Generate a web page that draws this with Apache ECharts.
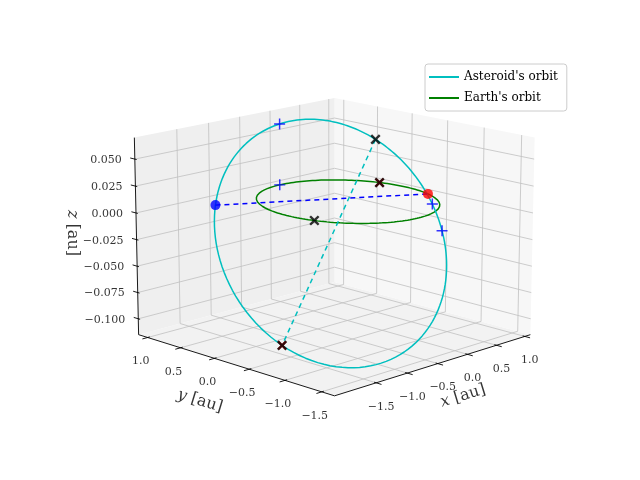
<!DOCTYPE html>
<html><head><meta charset="utf-8">
<script src="https://cdn.jsdelivr.net/npm/echarts@6/dist/echarts.min.js"></script>
<style>html,body{margin:0;padding:0;background:#fff}#c{width:640px;height:480px}</style>
</head><body><div id="c"></div>
<script>
// ---- data ----
const xTicks = [-1.5, -1.0, -0.5, 0.0, 0.5, 1.0];
const yTicks = [-1.5, -1.0, -0.5, 0.0, 0.5, 1.0];
const zTicks = [-0.100, -0.075, -0.050, -0.025, 0.000, 0.025, 0.050];
const xTickLabels = ['−1.5', '−1.0', '−0.5', '0.0', '0.5', '1.0'];
const yTickLabels = ['−1.5', '−1.0', '−0.5', '0.0', '0.5', '1.0'];
const zTickLabels = ['−0.100', '−0.075', '−0.050', '−0.025', '0.000', '0.025', '0.050'];
// asteroid orbital elements: a [au], e, i [deg], node [deg], arg. perihelion [deg]
const asteroidA = [1.335];
const asteroidE = [0.375];
const asteroidInc = [3.9];
const asteroidNode = [-33.4];
const asteroidPeri = [52.2];
const earthRadius = [1.0];
// marker positions
const asteroidDotNu = [127.8];            // asteroid (blue dot), true anomaly deg
const asteroidPlusNu = [70, -56, -72];    // blue + on asteroid orbit
const apsidesNu = [0, 180];               // black x at perihelion / aphelion
const earthDotAngle = [-21.9];            // Earth (red dot), deg
const earthPlusAngle = [90];              // blue + on Earth orbit
const earthXAngle = [19.5, -160];         // black x on Earth orbit
const redXAsteroidNu = [180];
const redXEarthAngle = [19.5];

// ---- projection (matplotlib-like 3D view) ----
const xlim = [-2.15, 1.10], ylim = [-1.67, 1.14], zlim = [-0.1152, 0.0698];
const AZ = -135 * Math.PI / 180, EL = 15 * Math.PI / 180, DIST = 18;
const CX = 334.5, CY = 237.2, SX = 140, SY = 136;
function nrm(x, y, z) {
  return [(x - (xlim[0] + xlim[1]) / 2) / ((xlim[1] - xlim[0]) / 2),
          (y - (ylim[0] + ylim[1]) / 2) / ((ylim[1] - ylim[0]) / 2),
          (z - (zlim[0] + zlim[1]) / 2) / ((zlim[1] - zlim[0]) / 2) * 0.75];
}
function projN(X, Y, Z) {
  const ca = Math.cos(AZ), sa = Math.sin(AZ), ce = Math.cos(EL), se = Math.sin(EL);
  const u = -X * sa + Y * ca;
  const h = X * ca + Y * sa;
  const v = Z * ce - h * se;
  const d = h * ce + Z * se;
  const f = DIST / (DIST - d);
  return [CX + SX * f * u, CY - SY * f * v];
}
function proj(x, y, z) { const n = nrm(x, y, z); return projN(n[0], n[1], n[2]); }

const D2R = Math.PI / 180;
function asteroidPos(nuDeg) {
  const a = asteroidA[0], e = asteroidE[0];
  const p = a * (1 - e * e);
  const nu = nuDeg * D2R;
  const r = p / (1 + e * Math.cos(nu));
  const uA = nu + asteroidPeri[0] * D2R, O = asteroidNode[0] * D2R, i = asteroidInc[0] * D2R;
  const c = Math.cos(uA), s = Math.sin(uA);
  return [r * (c * Math.cos(O) - s * Math.sin(O) * Math.cos(i)),
          r * (c * Math.sin(O) + s * Math.cos(O) * Math.cos(i)),
          r * s * Math.sin(i)];
}
function earthPos(deg) { const t = deg * D2R; return [earthRadius[0] * Math.cos(t), earthRadius[0] * Math.sin(t), 0]; }
const P = q => proj(q[0], q[1], q[2]);

// orbits
const astLine = [], earthLine = [];
for (let k = 0; k <= 360; k += 2) { astLine.push(P(asteroidPos(k))); earthLine.push(P(earthPos(k))); }

// panes, grid, axes
const xN = xTicks.map(t => nrm(t, 0, 0)[0]);
const yN = yTicks.map(t => nrm(0, t, 0)[1]);
const zN = zTicks.map(t => nrm(0, 0, t)[2]);
const Zb = -0.75, Zt = 0.75;
const panes = [
  {c: '#f2f2f2', pts: [[-1, -1, Zb], [1, -1, Zb], [1, 1, Zb], [-1, 1, Zb]]},
  {c: '#f7f7f7', pts: [[1, -1, Zb], [1, 1, Zb], [1, 1, Zt], [1, -1, Zt]]},
  {c: '#efefef', pts: [[-1, 1, Zb], [1, 1, Zb], [1, 1, Zt], [-1, 1, Zt]]}
].map(p => ({c: p.c, pts: p.pts.map(q => projN(q[0], q[1], q[2]))}));
const grid = [];
xN.forEach(X => { grid.push([projN(X, -1, Zb), projN(X, 1, Zb)]); grid.push([projN(X, 1, Zb), projN(X, 1, Zt)]); });
yN.forEach(Y => { grid.push([projN(-1, Y, Zb), projN(1, Y, Zb)]); grid.push([projN(1, Y, Zb), projN(1, Y, Zt)]); });
zN.forEach(Z => { grid.push([projN(1, -1, Z), projN(1, 1, Z)]); grid.push([projN(-1, 1, Z), projN(1, 1, Z)]); });
const axes = [
  [projN(-1, -1, Zb), projN(1, -1, Zb)],
  [projN(-1, -1, Zb), projN(-1, 1, Zb)],
  [projN(-1, 1, Zb), projN(-1, 1, Zt)]
];
xN.forEach(X => axes.push([projN(X, -1 + 0.02, Zb), projN(X, -1 - 0.05, Zb)]));
yN.forEach(Y => axes.push([projN(-1 + 0.02, Y, Zb), projN(-1 - 0.05, Y, Zb)]));
zN.forEach(Z => axes.push([projN(-1, 1 - 0.02, Z), projN(-1, 1 + 0.05, Z)]));

const labels = [];
xN.forEach((X, k) => { const p = projN(X, -1, Zb); labels.push({value: [p[0] + 5, p[1] + 24], name: xTickLabels[k], al: 'center'}); });
yN.forEach((Y, k) => { const p = projN(-1, Y, Zb); labels.push({value: [p[0] - 7, p[1] + 24], name: yTickLabels[k], al: 'center'}); });
zN.forEach((Z, k) => { const p = projN(-1, 1, Z); labels.push({value: [p[0] - 13, p[1] + 1], name: zTickLabels[k], al: 'right'}); });

const astDot = asteroidDotNu.map(n => P(asteroidPos(n)));
const earthDot = earthDotAngle.map(a => P(earthPos(a)));
const plusPts = asteroidPlusNu.map(n => P(asteroidPos(n))).concat(earthPlusAngle.map(a => P(earthPos(a))));
const blackX = apsidesNu.map(n => P(asteroidPos(n))).concat(earthXAngle.map(a => P(earthPos(a))));
const redX = redXAsteroidNu.map(n => P(asteroidPos(n))).concat(redXEarthAngle.map(a => P(earthPos(a))));
const apsLine = apsidesNu.map(n => P(asteroidPos(n)));
const sightLine = [P(asteroidPos(asteroidDotNu[0])), P(earthPos(earthDotAngle[0]))];

const SERIF = '"DejaVu Serif", serif';
const PLUS = 'path://M-0.8,-6L0.8,-6L0.8,-0.8L6,-0.8L6,0.8L0.8,0.8L0.8,6L-0.8,6L-0.8,0.8L-6,0.8L-6,-0.8L-0.8,-0.8Z';
const XMARK = 'path://M-1.2,-6L1.2,-6L1.2,-1.2L6,-1.2L6,1.2L1.2,1.2L1.2,6L-1.2,6L-1.2,1.2L-6,1.2L-6,-1.2L-1.2,-1.2Z';

const chart = echarts.init(document.getElementById('c'), null, {renderer: 'canvas'});
chart.setOption({
  animation: false,
  grid: {left: 0, right: 0, top: 0, bottom: 0},
  xAxis: {type: 'value', min: 0, max: 640, show: false},
  yAxis: {type: 'value', min: 0, max: 480, inverse: true, show: false},
  legend: {
    data: ["Asteroid's orbit", "Earth's orbit"], orient: 'vertical', left: 425, top: 64,
    itemWidth: 30, itemHeight: 2, itemGap: 9, icon: 'rect',
    borderColor: '#cccccc', borderWidth: 1, borderRadius: 3, padding: [7, 9, 7, 4],
    textStyle: {fontFamily: SERIF, fontSize: 12, color: '#000'}
  },
  series: [
    {type: 'custom', silent: true, z: 1, data: panes.map((p, i) => i),
     renderItem: (params, api) => {
       const p = panes[params.dataIndex];
       return {type: 'polygon', shape: {points: p.pts}, style: {fill: p.c, stroke: null}};
     }},
    {type: 'lines', coordinateSystem: 'cartesian2d', polyline: true, silent: true, z: 2,
     lineStyle: {color: '#c0c0c0', width: 0.8, opacity: 1}, data: grid.map(c => ({coords: c}))},
    {type: 'lines', coordinateSystem: 'cartesian2d', polyline: true, silent: true, z: 3,
     lineStyle: {color: '#000', width: 0.9, opacity: 1}, data: axes.map(c => ({coords: c}))},
    {type: 'scatter', silent: true, z: 4, symbolSize: 0, data: labels.map(l => ({value: l.value, name: l.name,
       label: {show: true, position: 'inside', formatter: '{b}', align: l.al, verticalAlign: 'middle',
               fontFamily: SERIF, fontSize: 11, color: '#000'}}))},
    {type: 'scatter', silent: true, z: 4, symbolSize: 0, data: [
       {value: [463, 396], name: '{i|x} [au]', label: {rotate: 17}},
       {value: [200, 401], name: '{i|y} [au]', label: {rotate: -17}},
       {value: [72, 233], name: '{i|z} [au]', label: {rotate: -90}}
     ].map(d => ({value: d.value, name: d.name, label: Object.assign({show: true, position: 'inside', formatter: '{b}',
        align: 'center', verticalAlign: 'middle', fontFamily: SERIF, fontSize: 16, color: '#000',
        rich: {i: {fontStyle: 'italic', fontFamily: SERIF, fontSize: 16}}}, d.label)}))},
    {name: "Earth's orbit", type: 'line', z: 5, showSymbol: false, data: earthLine, color: '#008000',
     lineStyle: {color: '#008000', width: 1.5}},
    {name: "Asteroid's orbit", type: 'line', z: 6, showSymbol: false, data: astLine, color: '#00bfbf',
     lineStyle: {color: '#00bfbf', width: 1.5}},
    {type: 'line', z: 7, showSymbol: false, data: apsLine, lineStyle: {color: '#00bfbf', width: 1.5, type: [5, 4]}},
    {type: 'line', z: 7, showSymbol: false, data: sightLine, lineStyle: {color: '#0000ff', width: 1.5, type: [5, 4]}},
    {type: 'scatter', z: 8, symbol: XMARK, symbolSize: 11, symbolRotate: 45, data: redX, itemStyle: {color: '#ff0000'}},
    {type: 'scatter', z: 9, symbol: XMARK, symbolSize: 12, symbolRotate: 45, data: blackX, itemStyle: {color: '#000'}},
    {type: 'scatter', z: 9, symbol: PLUS, symbolSize: 11, data: plusPts, itemStyle: {color: '#0000ff'}},
    {type: 'scatter', z: 10, symbol: 'circle', symbolSize: 10, data: astDot, itemStyle: {color: '#0000ff'}},
    {type: 'scatter', z: 10, symbol: 'circle', symbolSize: 10, data: earthDot, itemStyle: {color: '#ff0000'}}
  ]
});
</script></body></html>
